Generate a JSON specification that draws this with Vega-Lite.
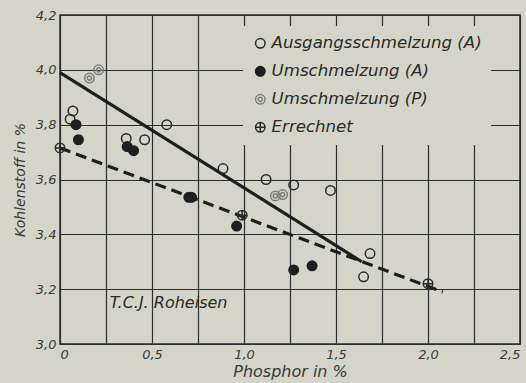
{
  "$schema": "https://vega.github.io/schema/vega-lite/v6.json",
  "width": 460,
  "height": 329,
  "autosize": {"type": "none"},
  "padding": {"left": 60, "top": 15, "right": 6, "bottom": 39},
  "background": "#d4d5c8",
  "config": {
    "view": {"stroke": "#2a2a2a", "strokeWidth": 1.5},
    "font": "DejaVu Sans",
    "axis": {
      "labelFont": "DejaVu Sans",
      "labelFontStyle": "italic",
      "labelFontSize": 13,
      "labelColor": "#3a3a3a",
      "titleFont": "DejaVu Sans",
      "titleFontStyle": "italic",
      "titleFontWeight": "normal",
      "titleFontSize": 14,
      "titleColor": "#3a3a3a",
      "domain": false,
      "ticks": false,
      "gridColor": "#2e2e2e",
      "gridWidth": 1.2,
      "gridOpacity": 1
    },
    "legend": {
      "orient": "none",
      "legendX": 183,
      "legendY": 11,
      "fillColor": "#d4d5c8",
      "padding": 9,
      "rowPadding": 11,
      "labelFont": "DejaVu Sans",
      "labelFontStyle": "italic",
      "labelFontSize": 16.6,
      "labelLimit": 400,
      "labelColor": "#2a2a2a",
      "symbolSize": 90,
      "symbolStrokeWidth": 1.5,
      "labelOffset": 3
    }
  },
  "datasets": {
    "points": [
      {"serie": "Ausgangsschmelzung (A)", "P": 0.07, "C": 3.85},
      {"serie": "Ausgangsschmelzung (A)", "P": 0.055, "C": 3.82},
      {"serie": "Ausgangsschmelzung (A)", "P": 0.36, "C": 3.75},
      {"serie": "Ausgangsschmelzung (A)", "P": 0.46, "C": 3.745},
      {"serie": "Ausgangsschmelzung (A)", "P": 0.58, "C": 3.8},
      {"serie": "Ausgangsschmelzung (A)", "P": 0.886, "C": 3.64},
      {"serie": "Ausgangsschmelzung (A)", "P": 1.12, "C": 3.6},
      {"serie": "Ausgangsschmelzung (A)", "P": 1.27, "C": 3.58},
      {"serie": "Ausgangsschmelzung (A)", "P": 1.47, "C": 3.56},
      {"serie": "Ausgangsschmelzung (A)", "P": 1.685, "C": 3.33},
      {"serie": "Ausgangsschmelzung (A)", "P": 1.65, "C": 3.245},
      {"serie": "Umschmelzung (A)", "P": 0.087, "C": 3.8},
      {"serie": "Umschmelzung (A)", "P": 0.1, "C": 3.745},
      {"serie": "Umschmelzung (A)", "P": 0.365, "C": 3.72},
      {"serie": "Umschmelzung (A)", "P": 0.4, "C": 3.705},
      {"serie": "Umschmelzung (A)", "P": 0.7, "C": 3.535},
      {"serie": "Umschmelzung (A)", "P": 0.715, "C": 3.535},
      {"serie": "Umschmelzung (A)", "P": 0.96, "C": 3.43},
      {"serie": "Umschmelzung (A)", "P": 1.27, "C": 3.27},
      {"serie": "Umschmelzung (A)", "P": 1.37, "C": 3.285},
      {"serie": "Umschmelzung (P)", "P": 0.16, "C": 3.97},
      {"serie": "Umschmelzung (P)", "P": 0.21, "C": 4.0},
      {"serie": "Umschmelzung (P)", "P": 1.17, "C": 3.54},
      {"serie": "Umschmelzung (P)", "P": 1.21, "C": 3.545},
      {"serie": "Errechnet", "P": 0.0, "C": 3.715},
      {"serie": "Errechnet", "P": 0.99, "C": 3.47},
      {"serie": "Errechnet", "P": 2.0, "C": 3.22}
    ],
    "lines": [
      {"linie": "Umschmelzung", "P": 0.0, "C": 3.99},
      {"linie": "Umschmelzung", "P": 1.64, "C": 3.3},
      {"linie": "Errechnet", "P": 0.0, "C": 3.715},
      {"linie": "Errechnet", "P": 2.08, "C": 3.19}
    ],
    "notes": [
      {"text": "T.C.J. Roheisen", "P": 0.27, "C": 3.15}
    ]
  },
  "layer": [
    {
      "data": {"name": "lines"},
      "transform": [{"filter": "datum.linie == 'Umschmelzung'"}],
      "mark": {"type": "line", "color": "#1e1e1e", "strokeWidth": 3.2},
      "encoding": {
        "x": {"field": "P", "type": "quantitative", "scale": {"domain": [0, 2.5], "nice": false},
          "axis": {"values": [0, 0.25, 0.5, 0.75, 1, 1.25, 1.5, 1.75, 2, 2.25, 2.5],
            "labelExpr": "datum.value == 0 ? '0' : (round(datum.value*4) % 2 == 0 ? replace(format(datum.value, '.1f'), '.', ',') : '')",
            "labelPadding": 4, "title": "Phosphor in %", "titlePadding": 2, "titleFontSize": 16}},
        "y": {"field": "C", "type": "quantitative", "scale": {"domain": [3.0, 4.2], "nice": false, "zero": false},
          "axis": {"values": [3.0, 3.1, 3.2, 3.3, 3.4, 3.5, 3.6, 3.7, 3.8, 3.9, 4.0, 4.1, 4.2],
            "labelExpr": "round(datum.value*10) % 2 == 0 ? replace(format(datum.value, '.1f'), '.', ',') : ''",
            "labelPadding": 4, "title": "Kohlenstoff in %", "titlePadding": 8}}
      }
    },
    {
      "data": {"name": "lines"},
      "transform": [{"filter": "datum.linie == 'Errechnet'"}],
      "mark": {"type": "line", "color": "#1e1e1e", "strokeWidth": 3.2, "strokeDash": [11, 6]},
      "encoding": {
        "x": {"field": "P", "type": "quantitative"},
        "y": {"field": "C", "type": "quantitative"}
      }
    },
    {
      "data": {"name": "points"},
      "mark": {"type": "point", "filled": false, "size": 90, "strokeWidth": 1.5, "opacity": 1},
      "encoding": {
        "x": {"field": "P", "type": "quantitative"},
        "y": {"field": "C", "type": "quantitative"},
        "shape": {"field": "serie", "type": "nominal", "title": null,
          "scale": {"domain": ["Ausgangsschmelzung (A)", "Umschmelzung (A)", "Umschmelzung (P)", "Errechnet"],
            "range": ["circle", "circle",
              "M-1,0A1,1 0 1,1 1,0A1,1 0 1,1 -1,0M-0.45,0A0.45,0.45 0 1,1 0.45,0A0.45,0.45 0 1,1 -0.45,0",
              "M-1,0A1,1 0 1,1 1,0A1,1 0 1,1 -1,0M-1,0L1,0M0,-1L0,1"]}},
        "stroke": {"field": "serie", "type": "nominal", "title": null,
          "scale": {"domain": ["Ausgangsschmelzung (A)", "Umschmelzung (A)", "Umschmelzung (P)", "Errechnet"],
            "range": ["#2a2a2a", "#1e1e1e", "#7e7f78", "#2a2a2a"]}},
        "fill": {"field": "serie", "type": "nominal", "title": null,
          "scale": {"domain": ["Ausgangsschmelzung (A)", "Umschmelzung (A)", "Umschmelzung (P)", "Errechnet"],
            "range": ["transparent", "#1e1e1e", "transparent", "transparent"]}}
      }
    },
    {
      "data": {"name": "notes"},
      "mark": {"type": "text", "align": "left", "baseline": "middle", "font": "DejaVu Sans", "fontStyle": "italic", "fontSize": 16, "color": "#2a2a2a"},
      "encoding": {
        "x": {"field": "P", "type": "quantitative"},
        "y": {"field": "C", "type": "quantitative"},
        "text": {"field": "text"}
      }
    }
  ]
}
